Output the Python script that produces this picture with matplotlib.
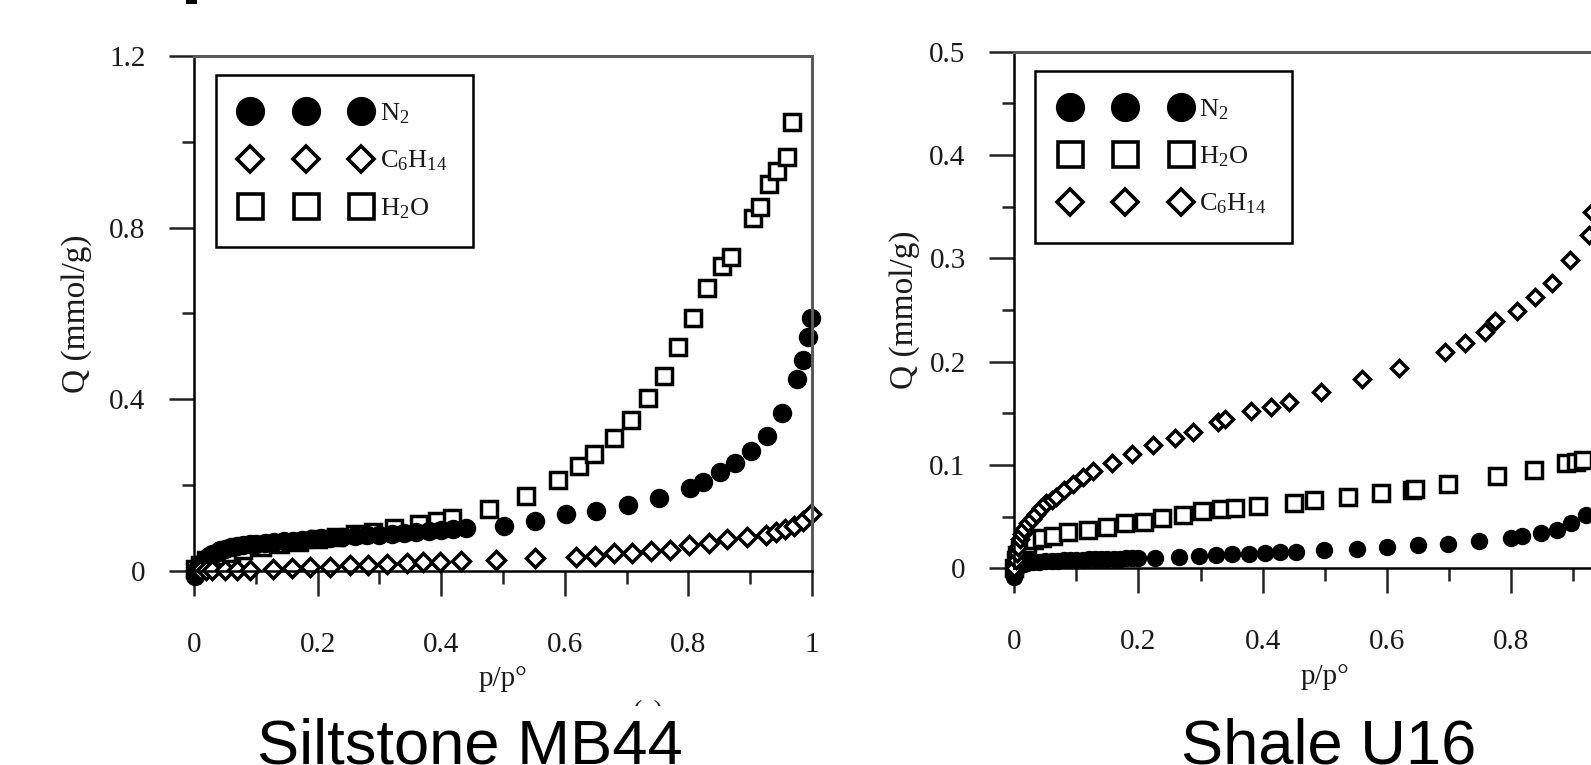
import matplotlib
matplotlib.use('Agg')
import matplotlib.pyplot as plt
from matplotlib.lines import Line2D
from matplotlib.patches import Rectangle

plt.rcParams['font.family'] = 'Liberation Serif'
plt.rcParams['mathtext.default'] = 'regular'

# ---- Siltstone MB44 (left panel) ----
mb44_n2_x = [0.001, 0.003, 0.005, 0.008, 0.011, 0.015, 0.019, 0.024, 0.029, 0.035,
             0.042, 0.050, 0.060, 0.070, 0.080, 0.090, 0.100, 0.115, 0.130, 0.145,
             0.160, 0.175, 0.190, 0.205, 0.220, 0.240, 0.260, 0.280, 0.300, 0.320,
             0.340, 0.360, 0.380, 0.400, 0.420, 0.440, 0.501, 0.552, 0.602, 0.651,
             0.702, 0.752, 0.803, 0.824, 0.852, 0.876, 0.902, 0.928, 0.952, 0.976,
             0.986, 0.993, 0.999]
mb44_n2_y = [-0.012, -0.004, 0.004, 0.010, 0.016, 0.022, 0.028, 0.034, 0.039, 0.043,
             0.048, 0.052, 0.056, 0.058, 0.060, 0.062, 0.063, 0.065, 0.067, 0.069,
             0.070, 0.072, 0.074, 0.076, 0.077, 0.079, 0.081, 0.083, 0.085, 0.087,
             0.089, 0.091, 0.093, 0.095, 0.098, 0.101, 0.106, 0.116, 0.132, 0.140,
             0.153, 0.171, 0.194, 0.207, 0.230, 0.252, 0.279, 0.314, 0.368, 0.447,
             0.492, 0.545, 0.589]

mb44_c6_x = [0.005, 0.010, 0.020, 0.030, 0.050, 0.070, 0.091, 0.128, 0.159, 0.188,
             0.220, 0.252, 0.282, 0.312, 0.345, 0.371, 0.398, 0.432, 0.489, 0.552,
             0.618, 0.649, 0.680, 0.709, 0.740, 0.770, 0.801, 0.834, 0.863, 0.895,
             0.926, 0.942, 0.957, 0.971, 0.986, 0.999]
mb44_c6_y = [0.001, 0.002, 0.002, 0.003, 0.003, 0.003, 0.002, 0.004, 0.006, 0.009,
             0.010, 0.013, 0.015, 0.017, 0.019, 0.021, 0.022, 0.023, 0.026, 0.030,
             0.033, 0.036, 0.041, 0.043, 0.047, 0.050, 0.060, 0.066, 0.074, 0.080,
             0.083, 0.091, 0.097, 0.106, 0.116, 0.132]

mb44_h2o_x = [0.002, 0.010, 0.020, 0.040, 0.060, 0.080, 0.110, 0.140, 0.170, 0.200,
              0.230, 0.260, 0.290, 0.324, 0.364, 0.393, 0.418, 0.477, 0.537, 0.589,
              0.623, 0.648, 0.680, 0.708, 0.734, 0.760, 0.783, 0.807, 0.830, 0.854,
              0.869, 0.904, 0.916, 0.931, 0.944, 0.959, 0.968]
mb44_h2o_y = [0.005, 0.015, 0.025, 0.035, 0.042, 0.048, 0.055, 0.062, 0.068, 0.074,
              0.080, 0.086, 0.092, 0.101, 0.109, 0.116, 0.124, 0.145, 0.174, 0.213,
              0.244, 0.273, 0.310, 0.353, 0.402, 0.455, 0.523, 0.589, 0.659, 0.711,
              0.732, 0.822, 0.849, 0.901, 0.932, 0.965, 1.047]

# ---- Shale U16 (right panel) ----
u16_n2_x = [0.000, 0.003, 0.006, 0.010, 0.015, 0.020, 0.030, 0.040, 0.050, 0.060,
            0.070, 0.080, 0.090, 0.100, 0.110, 0.120, 0.130, 0.140, 0.150, 0.160,
            0.170, 0.180, 0.190, 0.200, 0.226, 0.265, 0.298, 0.325, 0.351, 0.378,
            0.404, 0.428, 0.453, 0.499, 0.552, 0.601, 0.650, 0.698, 0.749, 0.800,
            0.818, 0.848, 0.874, 0.897, 0.920]
u16_n2_y = [-0.008, -0.002, 0.002, 0.003, 0.004, 0.005, 0.006, 0.006, 0.007, 0.007,
            0.007, 0.008, 0.008, 0.008, 0.008, 0.009, 0.009, 0.009, 0.009, 0.009,
            0.009, 0.010, 0.010, 0.010, 0.010, 0.011, 0.012, 0.013, 0.014, 0.014,
            0.015, 0.016, 0.016, 0.018, 0.019, 0.021, 0.023, 0.024, 0.026, 0.029,
            0.031, 0.034, 0.037, 0.044, 0.052]

u16_h2o_x = [0.000, 0.002, 0.005, 0.010, 0.015, 0.020, 0.032, 0.045, 0.063, 0.087,
             0.118, 0.149, 0.179, 0.209, 0.238, 0.271, 0.303, 0.333, 0.355, 0.393,
             0.450, 0.483, 0.538, 0.591, 0.640, 0.646, 0.698, 0.777, 0.837, 0.888,
             0.904, 0.916]
u16_h2o_y = [0.000, 0.008, 0.013, 0.018, 0.022, 0.024, 0.027, 0.029, 0.031, 0.035,
             0.037, 0.040, 0.044, 0.045, 0.049, 0.052, 0.055, 0.057, 0.058, 0.060,
             0.063, 0.066, 0.069, 0.073, 0.076, 0.077, 0.082, 0.089, 0.095, 0.102,
             0.103, 0.105]

u16_c6_x = [0.000, 0.002, 0.004, 0.006, 0.009, 0.012, 0.016, 0.022, 0.028, 0.035,
            0.043, 0.051, 0.060, 0.068, 0.080, 0.094, 0.110, 0.127, 0.157, 0.190,
            0.223, 0.259, 0.288, 0.328, 0.339, 0.381, 0.413, 0.443, 0.494, 0.560,
            0.620, 0.693, 0.726, 0.758, 0.774, 0.809, 0.839, 0.866, 0.895, 0.925,
            0.930]
u16_c6_y = [0.000, 0.008, 0.015, 0.021, 0.028, 0.033, 0.038, 0.044, 0.048, 0.053,
            0.058, 0.063, 0.066, 0.069, 0.076, 0.082, 0.088, 0.094, 0.102, 0.111,
            0.119, 0.126, 0.132, 0.142, 0.145, 0.152, 0.156, 0.161, 0.171, 0.183,
            0.194, 0.209, 0.218, 0.229, 0.239, 0.249, 0.263, 0.276, 0.298, 0.323,
            0.345]

x_ticks = [0, 0.2, 0.4, 0.6, 0.8, 1.0]
x_tick_labels = ['0', '0.2', '0.4', '0.6', '0.8', '1']
x_minor = [0.1, 0.3, 0.5, 0.7, 0.9]
mb44_y_ticks = [0, 0.4, 0.8, 1.2]
mb44_y_tick_labels = ['0', '0.4', '0.8', '1.2']
mb44_y_minor = [0.2, 0.6, 1.0]
u16_y_ticks = [0, 0.1, 0.2, 0.3, 0.4, 0.5]
u16_y_tick_labels = ['0', '0.1', '0.2', '0.3', '0.4', '0.5']
u16_y_minor = [0.05, 0.15, 0.25, 0.35, 0.45]

TXT = '#1a1a1a'
circle = dict(ls='none', marker='o', mfc='black', mec='black', mew=1.0)
square = dict(ls='none', marker='s', mfc='white', mec='black', mew=2.5)
diamond = dict(ls='none', marker='D', mfc='white', mec='black', mew=2.5)


def style_axes(ax, ymax, yticks, ylabels, yminor, ylabelpad):
    ax.set_xlim(0, 1)
    ax.set_ylim(0, ymax)
    ax.set_xticks(x_ticks)
    ax.set_xticklabels(x_tick_labels)
    ax.set_xticks(x_minor, minor=True)
    ax.set_yticks(yticks)
    ax.set_yticklabels(ylabels)
    ax.set_yticks(yminor, minor=True)
    ax.tick_params(which='both', direction='out', width=1.8, color='#222222',
                   top=False, right=False)
    ax.tick_params(which='major', length=18, labelsize=21, labelcolor=TXT)
    ax.tick_params(which='minor', length=9)
    ax.tick_params(axis='x', which='major', pad=26)
    ax.tick_params(axis='y', which='major', pad=17)
    for side in ['left', 'bottom']:
        ax.spines[side].set_linewidth(1.8)
        ax.spines[side].set_color('black')
    for side in ['top', 'right']:
        ax.spines[side].set_linewidth(2.2)
        ax.spines[side].set_color('#5a5a5a')
    ax.set_xlabel('p/p°', fontsize=21, color=TXT, labelpad=6)
    ax.set_ylabel('Q (mmol/g)', fontsize=24, color=TXT, labelpad=ylabelpad)


def legend_handles():
    return {
        'N2': Line2D([], [], ls='none', marker='o', ms=20, mfc='black', mec='black'),
        'C6': Line2D([], [], ls='none', marker='D', ms=13, mfc='white', mec='black', mew=2.6),
        'H2O': Line2D([], [], ls='none', marker='s', ms=18, mfc='white', mec='black', mew=2.6),
    }


fig = plt.figure(figsize=(15.91, 7.65), dpi=100)
ax1 = fig.add_axes([0.1219, 0.2536, 0.3884, 0.6732])
ax2 = fig.add_axes([0.6375, 0.2571, 0.3903, 0.6753])

# left panel
ax1.plot(mb44_h2o_x, mb44_h2o_y, ms=12, clip_on=False, **square)
ax1.plot(mb44_n2_x, mb44_n2_y, ms=13, clip_on=False, **circle)
ax1.plot(mb44_c6_x, mb44_c6_y, ms=9, clip_on=False, **diamond)
style_axes(ax1, 1.2, mb44_y_ticks, mb44_y_tick_labels, mb44_y_minor, 12)

# right panel
ax2.plot(u16_h2o_x, u16_h2o_y, ms=11, clip_on=False, **square)
ax2.plot(u16_n2_x, u16_n2_y, ms=11.5, clip_on=False, **circle)
ax2.plot(u16_c6_x, u16_c6_y, ms=8.5, clip_on=False, **diamond)
style_axes(ax2, 0.5, u16_y_ticks, u16_y_tick_labels, u16_y_minor, 7)

leg_kw = dict(loc='upper left', numpoints=3, fontsize=19, handlelength=4.8,
              handletextpad=0.4, labelspacing=0.86, borderpad=1.0,
              borderaxespad=0, fancybox=False, framealpha=1, edgecolor='black',
              labelcolor=TXT)
h = legend_handles()
leg1 = ax1.legend([h['N2'], h['C6'], h['H2O']],
                  ['N$_2$', 'C$_6$H$_{14}$', 'H$_2$O'],
                  bbox_to_anchor=(0.036, 0.963), **leg_kw)
leg1.get_frame().set_linewidth(1.8)
h = legend_handles()
leg2 = ax2.legend([h['N2'], h['H2O'], h['C6']],
                  ['N$_2$', 'H$_2$O', 'C$_6$H$_{14}$'],
                  bbox_to_anchor=(0.034, 0.963), **leg_kw)
leg2.get_frame().set_linewidth(1.8)

# panel captions (the left one hides a sub-label underneath)
fig.text(648 / 1591, 1 - 700 / 765, '(a)', fontsize=20, color=TXT,
         ha='center', va='top', zorder=1)
fig.text(470 / 1591, 1 - 763 / 765, 'Siltstone MB44', family='Liberation Sans',
         fontsize=45.5, ha='center', va='baseline', zorder=5,
         bbox=dict(facecolor='white', edgecolor='none', pad=8))
fig.text(1329 / 1591, 1 - 763 / 765, 'Shale U16', family='Liberation Sans',
         fontsize=45.5, ha='center', va='baseline', zorder=5,
         bbox=dict(facecolor='white', edgecolor='none', pad=8))

# clipped piece of a mark above the figure
fig.patches.append(Rectangle((186 / 1591, 1 - 4 / 765), 11 / 1591, 4 / 765,
                             transform=fig.transFigure, facecolor='black',
                             edgecolor='none'))

fig.savefig('out.png', dpi=100)
